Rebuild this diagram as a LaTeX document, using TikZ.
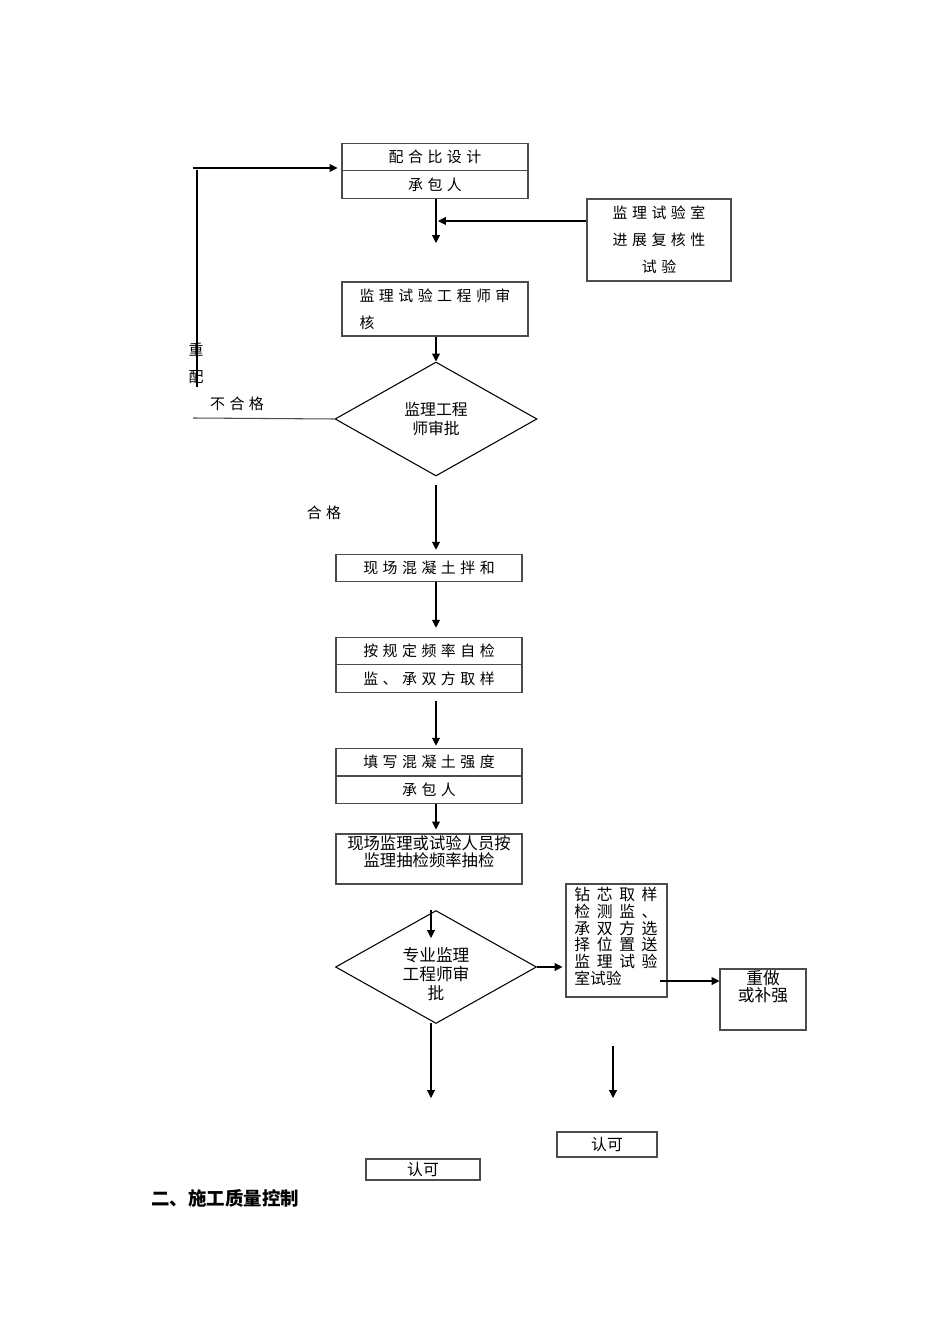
\documentclass[tikz,border=0pt]{standalone}
\usepackage{fontspec}
\newfontfamily\cjk{Noto Sans CJK SC}
\newfontfamily\cjksp[LetterSpace=30]{Noto Sans CJK SC}
\newfontfamily\cjkwide[LetterSpace=42]{Noto Sans CJK SC}
\usetikzlibrary{shapes.geometric,arrows.meta}
\begin{document}
\begin{tikzpicture}[x=0.02cm,y=-0.02cm,
  box/.style={draw=black!70,line width=0.6pt,rectangle,minimum width=3.72cm,minimum height=0.55cm,inner sep=0pt,font=\cjksp\fontsize{8.5}{15.3}\selectfont},
  dia/.style={draw=black,line width=0.6pt,diamond,minimum width=4.04cm,minimum height=2.28cm,inner sep=0pt,align=center,font=\cjk\fontsize{9}{10.8}\selectfont},
  arr/.style={-{Triangle[length=4.5pt,width=4.5pt]},line width=0.6pt},
  lbl/.style={font=\cjksp\fontsize{8.5}{15}\selectfont,inner sep=0pt}]
\useasboundingbox (0,0) rectangle (950,1344);
% upper part
\node[box] (des) at (435,157) {配合比设计};
\node[box] (des2) at (435,184.5) {承包人};
\node[box,minimum width=2.88cm,minimum height=1.64cm,align=center] (lab) at (659,240) {监理试验室\\进展复核性\\试验};
\node[box,minimum height=1.08cm,align=left] (rev) at (435,309) {监理试验工程师审\\核};
\node[dia] (chk1) at (436,419) {监理工程\\师审批};
\node[lbl] (re1) at (196,350) {重};
\node[lbl] (re2) at (196,377) {配};
\node[lbl] (fail) at (237,404) {不合格};
\node[lbl] (pass) at (324,513) {合格};
% site part
\node[box] (mix) at (429,568) {现场混凝土拌和};
\node[box] (smp) at (429,651) {按规定频率自检};
\node[box] (smp2) at (429,678.5) {监、承双方取样};
\node[box] (str) at (429,762) {填写混凝土强度};
\node[box] (str2) at (429,790) {承包人};
\node[box,minimum height=1cm] (spot) at (429,859) {};
\node[font=\cjk\fontsize{9.3}{9.8}\selectfont,align=center,inner sep=0pt] (spott) at (429,852) {现场监理或试验人员按\\监理抽检频率抽检};
\node[dia,minimum width=4.02cm,minimum height=2.26cm] (chk2) at (436,967) {};
\node[font=\cjk\fontsize{9.5}{10.8}\selectfont,align=center,inner sep=0pt] (chk2t) at (436,974) {专业监理\\工程师审\\批};
\node[box,minimum width=2.02cm,minimum height=2.26cm] (core) at (616.5,940.5) {};
\node[align=left,inner sep=0pt,anchor=north west,font=\cjkwide\fontsize{9}{9.5}\selectfont] (coret) at (574,887) {钻芯取样\\检测监、\\承双方选\\择位置送\\监理试验\\{\cjk 室试验}};
\node[box,minimum width=1.72cm,minimum height=1.22cm] (redo) at (763,999.5) {};
\node[font=\cjk\fontsize{9.5}{9.7}\selectfont,align=center,inner sep=0pt] (redot) at (763,987) {重做\\或补强};
\node[box,minimum width=2cm,minimum height=0.5cm,font=\cjk\fontsize{9}{10}\selectfont] (acc1) at (607,1144.5) {认可};
\node[box,minimum width=2.28cm,minimum height=0.42cm,font=\cjk\fontsize{9}{10}\selectfont] (acc2) at (423,1169.5) {认可};
\node[anchor=west,inner sep=0pt,font=\cjk\bfseries\fontsize{10.5}{12}\selectfont] (sec) at (151,1198) {二、施工质量控制};
% free ends
\coordinate (l0) at (193,168);
\coordinate (l1) at (197,170);
\coordinate (l2) at (197,387);
\coordinate (l3) at (193,418);
\coordinate (j0) at (438,221);
\coordinate (j1) at (436,243);
\coordinate (p1) at (436,485);
\coordinate (q1) at (431,910);
\coordinate (q2) at (431,938);
\coordinate (q3) at (431,1023);
\coordinate (q4) at (431,1098);
\coordinate (r0) at (660,981);
\coordinate (s1) at (613,1046);
\coordinate (s2) at (613,1098);
% connectors
\draw[line width=0.6pt] (l1) -- (l2);
\draw[arr,shorten >=0.08cm] (l0) -- (des.west |- l0);
\draw[line width=0.6pt,black!70] (chk1.west) -- (l3);
\draw[arr] (j1 |- des2.south) -- (j1);
\draw[arr] (lab.west |- j0) -- (j0);
\draw[arr] (rev.south -| j1) -- (chk1.north);
\draw[arr,shorten >=0.08cm] (p1) -- (p1 |- mix.north);
\draw[arr,shorten >=0.18cm] (p1 |- mix.south) -- (p1 |- smp.north);
\draw[arr,shorten <=0.16cm,shorten >=0.04cm] (p1 |- smp2.south) -- (p1 |- str.north);
\draw[arr,shorten >=0.08cm] (p1 |- str2.south) -- (p1 |- spot.north);
\draw[arr] (q1) -- (q2);
\draw[arr,shorten >=0.06cm] (chk2.east) -- (core.west |- chk2.east);
\draw[arr] (r0) -- (redo.west |- r0);
\draw[arr] (q3) -- (q4);
\draw[arr] (s1) -- (s2);
\end{tikzpicture}
\end{document}
